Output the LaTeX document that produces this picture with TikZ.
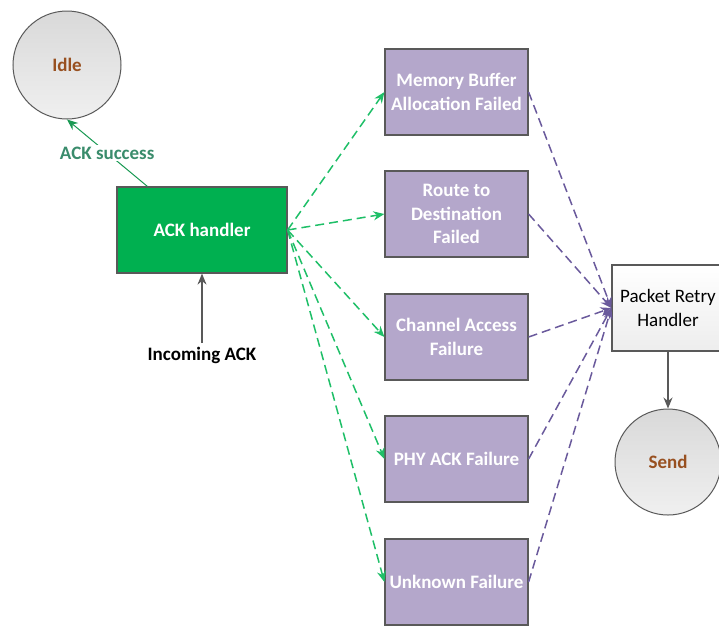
\documentclass[tikz,border=0pt]{standalone}
\usepackage{fontspec}
\setmainfont{Carlito}
\usetikzlibrary{arrows.meta,positioning}
\definecolor{okgreen}{HTML}{00B050}
\definecolor{dashgreen}{HTML}{1FBF68}
\definecolor{lilac}{HTML}{B4A7CB}
\definecolor{violetline}{HTML}{6A5A9C}
\definecolor{edgegray}{HTML}{595959}
\definecolor{rust}{HTML}{985020}
\definecolor{tealtext}{HTML}{3A8C6C}
\tikzset{
  txt/.style={font=\fontsize{19}{23.5}\selectfont\bfseries},
  failbox/.style={draw=edgegray, line width=1.2pt, fill=lilac, minimum width=143pt,
    minimum height=86pt, align=center, text=white, txt, inner sep=0pt},
  statecircle/.style={circle, draw=edgegray, line width=1pt, top color=black!15,
    bottom color=black!6, text=rust, txt, inner sep=0pt},
  greenarrow/.style={draw=dashgreen, line width=1.5pt, dash pattern=on 9pt off 5pt,
    -{Stealth[length=11pt,width=9pt]}},
  violetarrow/.style={draw=violetline, line width=1.5pt, dash pattern=on 9pt off 5pt,
    -{Stealth[length=11pt,width=9pt]}},
  plainarrow/.style={draw=edgegray, line width=1.2pt, -{Stealth[length=11pt,width=9pt]}}
}
\begin{document}
\begin{tikzpicture}[x=1pt,y=-1pt]
\useasboundingbox (0,0) rectangle (719,625);

% states
\node[statecircle, minimum size=108pt] (idle) at (67,65) {Idle};
\node[statecircle, minimum size=106pt] (send) at (668,462) {Send};

% handlers
\node[draw=edgegray, line width=1.2pt, fill=okgreen, text=white, txt,
  minimum width=170pt, minimum height=86pt, inner sep=0pt] (ack) at (202,230) {ACK handler};
\node[draw=edgegray, line width=1.2pt, top color=white, bottom color=black!7,
  font=\fontsize{19}{23.5}\selectfont, align=center, minimum width=112pt,
  minimum height=86pt, inner sep=0pt] (retry) at (668,308) {Packet Retry\\Handler};

% failure reasons
\node[failbox] (mem)   at (456.5,92)  {Memory Buffer\\Allocation Failed};
\node[failbox] (route) at (456.5,214) {Route to\\Destination\\Failed};
\node[failbox] (chan)  at (456.5,337) {Channel Access\\Failure};
\node[failbox] (phy)   at (456.5,459) {PHY ACK Failure};
\node[failbox] (unk)   at (456.5,582) {Unknown Failure};

% input label
\node[txt] (incoming) at (202,355) {Incoming ACK};

% connectors
\draw[plainarrow] (incoming.north) -- (ack.south);
\draw[plainarrow] (retry.south) -- (send.north);
\draw[draw=dashgreen!80!black, line width=1pt, -{Stealth[length=11pt,width=9pt]}]
  ([xshift=31pt]ack.north west) -- node[fill=white, text=tealtext, txt, inner sep=2pt] (succ) {ACK success} (idle.south);

\foreach \b in {mem,route,chan,phy,unk}
  \draw[greenarrow] (ack.east) -- (\b.west);
\foreach \b in {mem,route,chan,phy,unk}
  \draw[violetarrow] (\b.east) -- (retry.west);
\end{tikzpicture}
\end{document}
